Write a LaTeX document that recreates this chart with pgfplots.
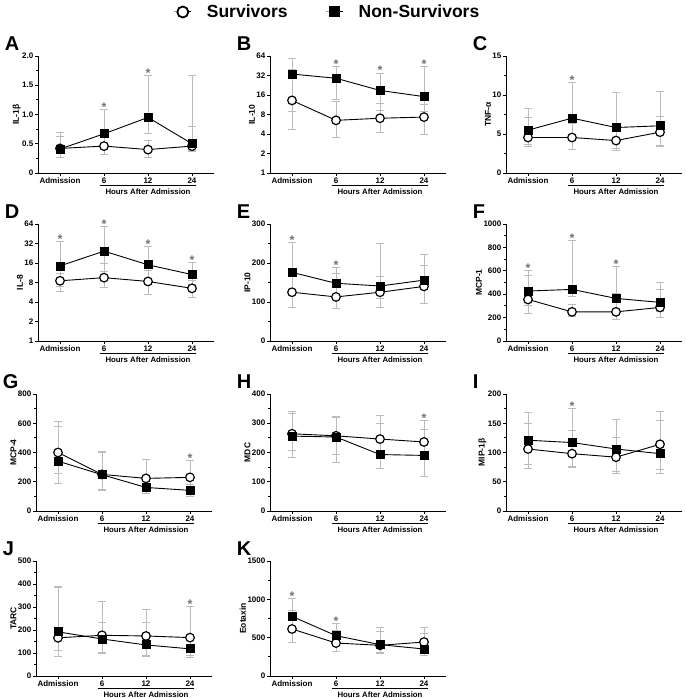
\documentclass[border=0pt]{standalone}
\usepackage{fontspec}
\setmainfont{Liberation Sans}
\usepackage{pgfplots}
\usepackage{pgfplotstable}
\pgfplotsset{compat=1.18}

\definecolor{errgray}{RGB}{188,188,188}
\definecolor{stargray}{RGB}{115,115,115}

% ---------------- data: x  median  upper  lower ----------------
\pgfplotstableread{
x y hi lo
0 0.42 0.63 0.33
1 0.46 0.74 0.32
2 0.40 0.55 0.26
3 0.46 0.79 0.38
}\AS
\pgfplotstableread{
x y hi lo
0 0.41 0.70 0.27
1 0.67 1.09 0.45
2 0.95 1.66 0.67
3 0.50 1.67 0.36
}\AN
\pgfplotstableread{
x y hi lo
0 13.2 39.7 4.7
1 6.5 12.8 3.6
2 7.0 11.8 4.3
3 7.3 11.6 3.9
}\BS
\pgfplotstableread{
x y hi lo
0 33.7 58.5 9.0
1 29.0 44.6 13.6
2 18.8 35.0 9.4
3 15.1 44.6 8.9
}\BN
\pgfplotstableread{
x y hi lo
0 4.55 7.1 3.6
1 4.55 6.3 3.0
2 4.16 6.4 2.9
3 5.23 7.3 3.4
}\CS
\pgfplotstableread{
x y hi lo
0 5.49 8.3 3.4
1 7.03 11.6 4.7
2 5.83 10.3 3.1
3 6.05 10.5 3.5
}\CN
\pgfplotstableread{
x y hi lo
0 8.5 11.0 5.9
1 9.5 15.7 6.7
2 8.3 12.2 5.3
3 6.5 8.5 4.7
}\DS
\pgfplotstableread{
x y hi lo
0 14.4 34.5 7.0
1 24.4 58.0 11.7
2 15.0 29.0 8.5
3 10.6 16.2 7.5
}\DN
\pgfplotstableread{
x y hi lo
0 125 185 87
1 113 173 83
2 125 165 85
3 140 194 97
}\ES
\pgfplotstableread{
x y hi lo
0 176 252 120
1 148 188 120
2 141 251 110
3 156 221 95
}\EN
\pgfplotstableread{
x y hi lo
0 355 556 235
1 249 310 210
2 249 405 180
3 287 441 200
}\FS
\pgfplotstableread{
x y hi lo
0 427 599 300
1 441 857 378
2 364 636 250
3 330 501 250
}\FN
\pgfplotstableread{
x y hi lo
0 400 610 255
1 250 405 145
2 223 350 141
3 230 345 150
}\GS
\pgfplotstableread{
x y hi lo
0 341 578 190
1 248 400 140
2 161 200 118
3 141 180 100
}\GN
\pgfplotstableread{
x y hi lo
0 264 341 206
1 257 324 195
2 246 325 200
3 236 310 175
}\HS
\pgfplotstableread{
x y hi lo
0 256 335 183
1 253 321 165
2 193 300 146
3 190 280 117
}\HN
\pgfplotstableread{
x y hi lo
0 106 150 79
1 98 137 74
2 92 126 64
3 114 170 71
}\IS
\pgfplotstableread{
x y hi lo
0 121 168 73
1 117 176 76
2 106 157 67
3 98 155 64
}\IN
\pgfplotstableread{
x y hi lo
0 166 384 86
1 177 323 102
2 174 291 90
3 167 304 90
}\JS
\pgfplotstableread{
x y hi lo
0 192 391 110
1 161 233 100
2 135 231 86
3 118 165 80
}\JN
\pgfplotstableread{
x y hi lo
0 613 857 435
1 430 596 326
2 400 630 291
3 443 630 291
}\KS
\pgfplotstableread{
x y hi lo
0 778 1013 600
1 526 683 400
2 409 583 313
3 352 561 270
}\KN

\pgfplotsset{
  panel/.style={
    scale only axis, width=176pt, height=117pt,
    xmin=-0.5, xmax=3.5,
    axis lines=left, axis line style={-, line width=0.9pt},
    xtick={0,1,2,3}, xticklabels={Admission,6,12,24},
    tick align=outside, major tick length=3pt, minor tick length=1.8pt,
    every tick/.style={black, line width=0.8pt},
    tick label style={font=\fontsize{8}{9}\selectfont\bfseries},
    xticklabel style={inner sep=1.5pt},
    yticklabel style={inner sep=1.5pt},
    /pgf/number format/assume math mode=true,
    /pgf/number format/set thousands separator={},
    scaled y ticks=false,
    ylabel style={font=\fontsize{8.5}{9}\selectfont\bfseries, yshift=-3.5pt},
    clip=false,
  },
  lin/.style={minor y tick num=1},
  errb/.style={forget plot, only marks, mark=none,
    error bars/.cd, y dir=both, y explicit,
    error bar style={errgray, line width=0.9pt},
    error mark options={rotate=90, errgray, line width=0.9pt, mark size=3.8pt}},
  surv/.style={forget plot, black, line width=0.9pt, mark=*, mark size=4.3pt,
    mark options={fill=white, line width=1.2pt}},
  nons/.style={forget plot, black, line width=0.9pt, mark=square*, mark size=4pt,
    mark options={fill=black}},
}

\newcommand{\errs}[1]{\addplot[errb] table[x=x, y=y,
  y error plus expr=\thisrow{hi}-\thisrow{y},
  y error minus expr=\thisrow{y}-\thisrow{lo}] {#1};}
\newcommand{\series}[2]{%
  \errs{#1}\errs{#2}%
  \addplot[surv] table[x=x,y=y] {#1};
  \addplot[nons] table[x=x,y=y] {#2};}
\newcommand{\hours}{%
  \draw[line width=0.7pt] ([yshift=-12.5pt]rel axis cs:0.35,0) -- ([yshift=-12.5pt]rel axis cs:0.90,0);
  \node[font=\fontsize{7.8}{8}\selectfont\bfseries, inner sep=0pt] at ([yshift=-18.5pt]rel axis cs:0.625,0) {Hours After Admission};}
\newcommand{\panel}[1]{\node[anchor=west, font=\fontsize{20}{20}\selectfont\bfseries, inner sep=0pt] at (rel axis cs:-0.19,1.107) {#1};}
\newcommand{\sig}[2]{\node[anchor=base, text=stargray, font=\fontsize{12.5}{12}\selectfont\bfseries, inner sep=0pt, yshift=-2pt] at (axis cs:#1,#2) {*};}

\begin{document}
\begin{tikzpicture}
\useasboundingbox (0,0) rectangle (685pt,698pt);

% ---------- A ----------
\begin{axis}[panel, lin, at={(38pt,525pt)}, anchor=south west,
  ymin=0, ymax=2, ytick={0,0.5,1,1.5,2}, yticklabels={0,0.5,1.0,1.5,2.0},
  ylabel={IL-1β},
  legend style={at={(rel axis cs:1.645,1.376)}, anchor=center, draw=none, fill=none,
    legend columns=2, font=\fontsize{17.5}{18}\selectfont\bfseries,
    /tikz/every odd column/.append style={column sep=13pt},
    /tikz/every even column/.append style={column sep=36pt}},
  legend cell align=left]
\addlegendimage{black, line width=1pt, mark=*, mark size=5.5pt, mark options={fill=white, line width=1.8pt}}
\addlegendentry{Survivors}
\addlegendimage{black, line width=1pt, mark=square*, mark size=5pt, mark options={fill=black}}
\addlegendentry{Non-Survivors}
\series{\AS}{\AN}
\sig{1}{1.09}\sig{2}{1.66}
\panel{A}\hours
\end{axis}

% ---------- B ----------
\begin{axis}[panel, at={(270pt,525pt)}, anchor=south west,
  ymode=log, log basis y=2, ymin=1, ymax=64,
  ytick={1,2,4,8,16,32,64}, yticklabels={1,2,4,8,16,32,64},
  ylabel={IL-10}]
\series{\BS}{\BN}
\sig{1}{44.6}\sig{2}{35}\sig{3}{44.6}
\panel{B}\hours
\end{axis}

% ---------- C ----------
\begin{axis}[panel, lin, at={(506pt,525pt)}, anchor=south west,
  ymin=0, ymax=15, ytick={0,5,10,15},
  ylabel={TNF-α}]
\series{\CS}{\CN}
\sig{1}{11.6}
\panel{C}\hours
\end{axis}

% ---------- D ----------
\begin{axis}[panel, at={(38pt,357pt)}, anchor=south west,
  ymode=log, log basis y=2, ymin=1, ymax=64,
  ytick={1,2,4,8,16,32,64}, yticklabels={1,2,4,8,16,32,64},
  ylabel={IL-8}]
\series{\DS}{\DN}
\sig{0}{34.5}\sig{1}{58}\sig{2}{29}\sig{3}{16.2}
\panel{D}\hours
\end{axis}

% ---------- E ----------
\begin{axis}[panel, lin, at={(270pt,357pt)}, anchor=south west,
  ymin=0, ymax=300, ytick={0,100,200,300},
  ylabel={IP-10}]
\series{\ES}{\EN}
\sig{0}{252}\sig{1}{188}
\panel{E}\hours
\end{axis}

% ---------- F ----------
\begin{axis}[panel, lin, at={(506pt,357pt)}, anchor=south west,
  ymin=0, ymax=1000, ytick={0,200,...,1000},
  ylabel={MCP-1}]
\series{\FS}{\FN}
\sig{0}{599}\sig{1}{857}\sig{2}{636}
\panel{F}\hours
\end{axis}

% ---------- G ----------
\begin{axis}[panel, lin, at={(36pt,187pt)}, anchor=south west,
  ymin=0, ymax=800, ytick={0,200,...,800},
  ylabel={MCP-4}]
\series{\GS}{\GN}
\sig{3}{345}
\panel{G}\hours
\end{axis}

% ---------- H ----------
\begin{axis}[panel, lin, at={(270pt,187pt)}, anchor=south west,
  ymin=0, ymax=400, ytick={0,100,...,400},
  ylabel={MDC}]
\series{\HS}{\HN}
\sig{3}{310}
\panel{H}\hours
\end{axis}

% ---------- I ----------
\begin{axis}[panel, lin, at={(506pt,187pt)}, anchor=south west,
  ymin=0, ymax=200, ytick={0,50,...,200},
  ylabel={MIP-1β}]
\series{\IS}{\IN}
\sig{1}{176}
\panel{I}\hours
\end{axis}

% ---------- J ----------
\begin{axis}[panel, lin, at={(36pt,22pt)}, anchor=south west, height=115pt,
  ymin=0, ymax=500, ytick={0,100,...,500},
  ylabel={TARC}]
\series{\JS}{\JN}
\sig{3}{304}
\panel{J}\hours
\end{axis}

% ---------- K ----------
\begin{axis}[panel, lin, at={(270pt,22pt)}, anchor=south west, height=115pt,
  ymin=0, ymax=1500, ytick={0,500,1000,1500},
  ylabel={Eotaxin}]
\series{\KS}{\KN}
\sig{0}{1013}\sig{1}{683}
\panel{K}\hours
\end{axis}
\end{tikzpicture}
\end{document}
